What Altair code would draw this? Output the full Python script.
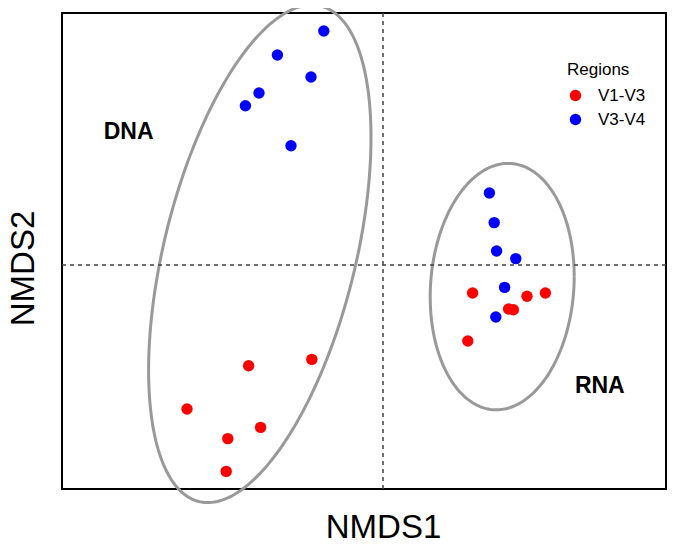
import altair as alt
import numpy as np
import pandas as pd

# ---- data (NMDS scores) ----
dna_v13_x = [-0.168, -0.089, -0.245, -0.153, -0.194, -0.196]
dna_v13_y = [-0.126, -0.118, -0.180, -0.203, -0.217, -0.258]
dna_v34_x = [-0.074, -0.132, -0.090, -0.155, -0.172, -0.115]
dna_v34_y = [0.2925, 0.2625, 0.235, 0.215, 0.199, 0.149]
rna_v13_x = [0.112, 0.180, 0.203, 0.157, 0.163, 0.106]
rna_v13_y = [-0.035, -0.039, -0.035, -0.055, -0.056, -0.095]
rna_v34_x = [0.133, 0.139, 0.142, 0.166, 0.152, 0.141]
rna_v34_y = [0.090, 0.053, 0.0175, 0.008, -0.028, -0.065]

regions = ["V1-V3", "V3-V4"]
region_colors = ["#FF0000", "#0000FF"]

# ellipse parameters: group, centre x, centre y, half-width, half-height, correlation
ell_group = ["DNA", "RNA"]
ell_cx = [-0.154, 0.149]
ell_cy = [0.014, -0.027]
ell_rx = [0.139, 0.090]
ell_ry = [0.311, 0.154]
ell_rho = [0.468, 0.083]

label_text = ["DNA", "RNA"]
label_x = [-0.318, 0.271]
label_y = [0.158, -0.160]

x_domain = [-0.40125, 0.35375]
y_domain = [-0.28, 0.315]

# ---- build tables ----
rows = []
for xs_, ys_, reg, nuc in [
    (dna_v13_x, dna_v13_y, "V1-V3", "DNA"),
    (dna_v34_x, dna_v34_y, "V3-V4", "DNA"),
    (rna_v13_x, rna_v13_y, "V1-V3", "RNA"),
    (rna_v34_x, rna_v34_y, "V3-V4", "RNA"),
]:
    for x, y in zip(xs_, ys_):
        rows.append({"NMDS1": x, "NMDS2": y, "Regions": reg, "Type": nuc})
pts = pd.DataFrame(rows)

t = np.linspace(0, 2 * np.pi, 241)
erows = []
for g, cx, cy, rx, ry, rho in zip(ell_group, ell_cx, ell_cy, ell_rx, ell_ry, ell_rho):
    for i, tt in enumerate(t):
        ex = cx + rx * np.cos(tt)
        ey = cy + ry * (rho * np.cos(tt) + np.sqrt(1 - rho ** 2) * np.sin(tt))
        erows.append({"ex": ex, "ey": ey, "g": g, "i": i})
ell = pd.DataFrame(erows)

labels = pd.DataFrame({"text": label_text, "lx": label_x, "ly": label_y})

xs = alt.Scale(domain=x_domain, nice=False, zero=False)
ys = alt.Scale(domain=y_domain, nice=False, zero=False)

FONT = "Liberation Sans"

x_axis = alt.Axis(title="NMDS1", labels=False, ticks=False, domain=False, grid=False,
                  titleFontSize=33, titleFont=FONT, titleFontWeight="normal",
                  titleColor="black", titleX=321, titleY=48, titleBaseline="alphabetic")
y_axis = alt.Axis(title="NMDS2", labels=False, ticks=False, domain=False, grid=False,
                  titleFontSize=33, titleFont=FONT, titleFontWeight="normal",
                  titleColor="black", titleAngle=270, titleX=-29, titleY=255,
                  titleBaseline="alphabetic", titleAlign="center")

ellipses = alt.Chart(ell).mark_line(color="#999999", strokeWidth=3, clip=False).encode(
    x=alt.X("ex:Q", scale=xs, axis=x_axis),
    y=alt.Y("ey:Q", scale=ys, axis=y_axis),
    detail="g:N",
    order="i:Q",
)

vrule = alt.Chart(pd.DataFrame({"v": [0.0]})).mark_rule(
    color="#444444", strokeWidth=1.5, strokeDash=[4, 4]
).encode(x=alt.X("v:Q", scale=xs))
hrule = alt.Chart(pd.DataFrame({"h": [0.0]})).mark_rule(
    color="#444444", strokeWidth=1.5, strokeDash=[4, 4]
).encode(y=alt.Y("h:Q", scale=ys))

points = alt.Chart(pts).mark_circle(size=130, opacity=1).encode(
    x=alt.X("NMDS1:Q", scale=xs),
    y=alt.Y("NMDS2:Q", scale=ys),
    color=alt.Color(
        "Regions:N",
        scale=alt.Scale(domain=regions, range=region_colors),
        legend=alt.Legend(
            title="Regions", orient="none", legendX=505, legendY=49,
            titleFont=FONT, titleFontSize=17, titleFontWeight="normal", titleColor="black",
            labelFont=FONT, labelFontSize=17, labelColor="black",
            symbolType="circle", symbolSize=130, symbolStrokeWidth=0, symbolOpacity=1,
            rowPadding=6, titlePadding=8, labelOffset=14, padding=0,
        ),
    ),
)

texts = alt.Chart(labels).mark_text(
    font=FONT, fontSize=23, fontWeight="bold", color="black", baseline="alphabetic", align="center"
).encode(
    x=alt.X("lx:Q", scale=xs),
    y=alt.Y("ly:Q", scale=ys),
    text="text:N",
)

chart = alt.layer(ellipses, vrule, hrule, points, texts).properties(
    width=604, height=476,
    autosize=alt.AutoSizeParams(type="none"),
    padding={"left": 54, "top": 5, "right": 1, "bottom": 49},
    background="white",
).configure_view(stroke="black", strokeWidth=2)

chart.save("out.html", embed_options={"renderer": "svg", "actions": False})
